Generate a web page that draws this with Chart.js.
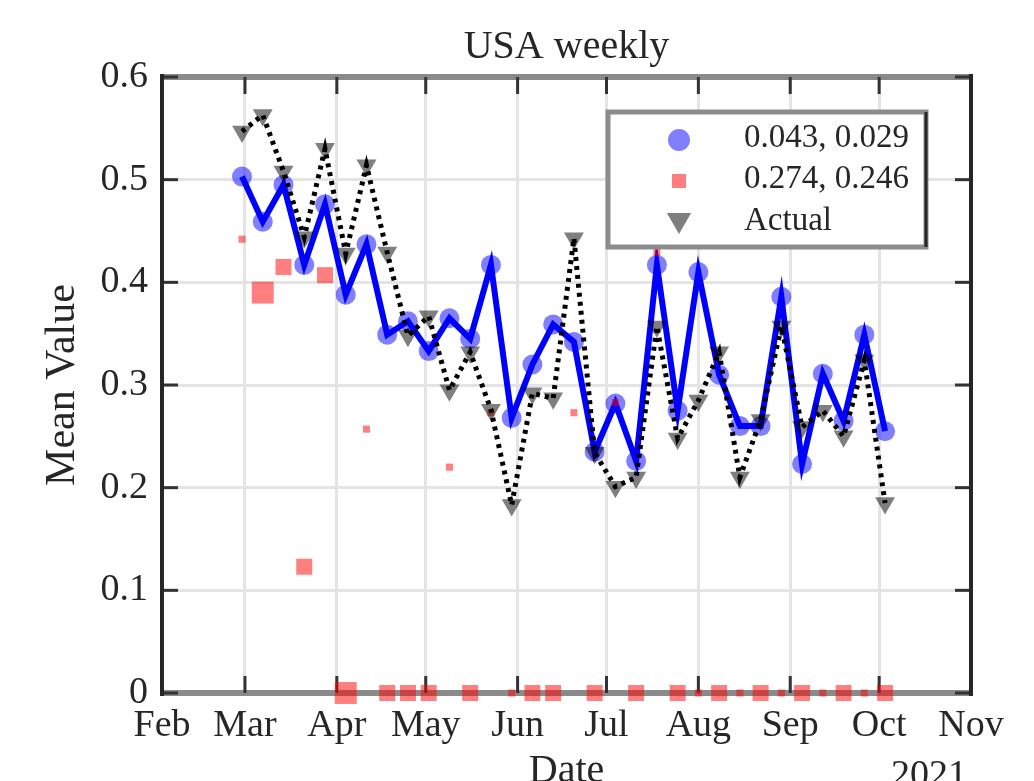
<!DOCTYPE html>
<html>
<head>
<meta charset="utf-8">
<script src="https://cdn.jsdelivr.net/npm/chart.js@4.4.0/dist/chart.umd.min.js"></script>
<style>
  html, body { margin: 0; padding: 0; background: #fff; overflow: hidden; }
  #wrap { width: 1034px; height: 781px; }
  #chart { filter: blur(0.5px); }
</style>
</head>
<body>
<div id="wrap"><canvas id="chart"></canvas></div>
<script>
// weekly dates (Sundays)
const weekDates = [
  '2021-02-28', '2021-03-07', '2021-03-14', '2021-03-21', '2021-03-28',
  '2021-04-04', '2021-04-11', '2021-04-18', '2021-04-25',
  '2021-05-02', '2021-05-09', '2021-05-16', '2021-05-23', '2021-05-30',
  '2021-06-06', '2021-06-13', '2021-06-20', '2021-06-27',
  '2021-07-04', '2021-07-11', '2021-07-18', '2021-07-25',
  '2021-08-01', '2021-08-08', '2021-08-15', '2021-08-22', '2021-08-29',
  '2021-09-05', '2021-09-12', '2021-09-19', '2021-09-26', '2021-10-03'
];
const monthStarts = ['2021-02-01', '2021-03-01', '2021-04-01', '2021-05-01', '2021-06-01',
  '2021-07-01', '2021-08-01', '2021-09-01', '2021-10-01', '2021-11-01'];
const monthLabels = ['Feb', 'Mar', 'Apr', 'May', 'Jun', 'Jul', 'Aug', 'Sep', 'Oct', 'Nov'];

// fit 1 (blue circles + line)
const fitBlue = [0.503, 0.459, 0.495, 0.417, 0.476, 0.388, 0.437, 0.349, 0.362, 0.333,
  0.365, 0.345, 0.417, 0.268, 0.320, 0.359, 0.342, 0.235, 0.282, 0.226,
  0.417, 0.275, 0.410, 0.310, 0.260, 0.260, 0.386, 0.223, 0.311, 0.265, 0.349, 0.255];
// fit 2 (red squares)
const fitRed = [0.442, 0.390, 0.415, 0.123, 0.407, 0, 0.257, 0, 0, 0,
  0.220, 0, 0.273, 0, 0, 0, 0.273, 0, 0.283, 0,
  0.429, 0, 0, 0, 0, 0, 0, 0, 0, 0, 0, 0];
// weight of each red marker (1 small, 2 medium, 3 large)
const fitRedWeight = [1, 3, 2, 2, 2, 3, 1, 2, 2, 2, 1, 2, 1, 1, 2, 2, 1, 2, 1, 2,
  1, 2, 1, 2, 1, 2, 1, 2, 1, 2, 1, 2];
// actual values (gray triangles + dotted line)
const actual = [0.547, 0.563, 0.508, 0.444, 0.530, 0.428, 0.514, 0.429, 0.348, 0.367,
  0.295, 0.332, 0.276, 0.183, 0.292, 0.287, 0.443, 0.234, 0.201, 0.210,
  0.357, 0.248, 0.285, 0.332, 0.210, 0.266, 0.357, 0.259, 0.275, 0.250, 0.324, 0.185];

const legendLabels = ['0.043, 0.029', '0.274, 0.246', 'Actual'];

const dayNum = s => (Date.parse(s) - Date.parse('2021-01-01')) / 86400000;
const xs = weekDates.map(dayNum);
const monthVals = monthStarts.map(dayNum);
const toPoints = arr => arr.map((v, i) => ({ x: xs[i], y: v }));

const TEXT = '#262626';
const FONT = 'Liberation Serif';
Chart.defaults.font.family = FONT;
Chart.defaults.color = TEXT;

// box frame with inward ticks, drawn under the data
const framePlugin = {
  id: 'frame',
  beforeDatasetsDraw(chart) {
    const { ctx, chartArea: a, scales: { x, y } } = chart;
    const seg = (x1, y1, x2, y2) => { ctx.beginPath(); ctx.moveTo(x1, y1); ctx.lineTo(x2, y2); ctx.stroke(); };
    ctx.save();
    ctx.strokeStyle = '#8a8a8a';
    ctx.lineWidth = 6;
    seg(a.left, a.top, a.right, a.top);
    seg(a.left, a.bottom, a.right, a.bottom);
    ctx.strokeStyle = '#333';
    ctx.lineWidth = 3;
    x.ticks.forEach(t => {
      const px = x.getPixelForValue(t.value);
      seg(px, a.bottom, px, a.bottom - 17);
      seg(px, a.top, px, a.top + 17);
    });
    y.ticks.forEach(t => {
      const py = y.getPixelForValue(t.value);
      seg(a.left, py, a.left + 16, py);
      seg(a.right, py, a.right - 16, py);
    });
    ctx.strokeStyle = '#262626';
    ctx.lineWidth = 4;
    seg(a.left, a.top - 3, a.left, a.bottom + 3);
    seg(a.right, a.top - 3, a.right, a.bottom + 3);
    ctx.restore();
  }
};

// legend box inside the axes + year label
const legendPlugin = {
  id: 'boxLegend',
  afterDraw(chart) {
    const { ctx } = chart;
    const bx = 608, by = 112, bw = 318, bh = 135;
    ctx.save();
    ctx.fillStyle = '#fff';
    ctx.fillRect(bx, by, bw, bh);
    ctx.strokeStyle = '#8c8c8c';
    ctx.lineWidth = 5;
    ctx.strokeRect(bx, by, bw, bh);
    ctx.strokeStyle = '#262626';
    ctx.lineWidth = 3;
    ctx.beginPath(); ctx.moveTo(bx + bw, by); ctx.lineTo(bx + bw, by + bh); ctx.stroke();

    const mx = 679;
    ctx.fillStyle = 'rgba(0,0,255,0.5)';
    ctx.beginPath(); ctx.arc(mx, 140, 11, 0, Math.PI * 2); ctx.fill();
    ctx.fillStyle = 'rgba(255,0,0,0.5)';
    ctx.fillRect(mx - 7, 181 - 7, 14, 14);
    ctx.fillStyle = 'rgba(0,0,0,0.5)';
    const r = 14;
    ctx.beginPath();
    ctx.moveTo(mx - r * 0.866, 220 - r * 0.5);
    ctx.lineTo(mx + r * 0.866, 220 - r * 0.5);
    ctx.lineTo(mx, 220 + r);
    ctx.closePath(); ctx.fill();

    ctx.fillStyle = TEXT;
    ctx.font = '33px "' + FONT + '"';
    ctx.textBaseline = 'alphabetic';
    ctx.textAlign = 'left';
    [147, 188, 230].forEach((ty, i) => ctx.fillText(legendLabels[i], 744, ty));

    ctx.font = '38px "' + FONT + '"';
    ctx.textAlign = 'center';
    ctx.fillText('2021', 929, 786);
    ctx.restore();
  }
};

const redRadius = [0, 5, 11.3, 15.5];

new Chart(document.getElementById('chart'), {
  type: 'line',
  data: {
    datasets: [
      {
        label: 'Actual line',
        data: toPoints(actual),
        borderColor: '#000',
        borderWidth: 5,
        borderDash: [4, 5],
        pointRadius: 0,
        tension: 0,
        clip: false,
        order: 0
      },
      {
        label: legendLabels[2],
        data: toPoints(actual),
        showLine: false,
        pointStyle: 'triangle',
        pointRotation: 180,
        pointRadius: 11.5,
        pointBorderWidth: 0,
        pointBackgroundColor: 'rgba(0,0,0,0.5)',
        clip: false,
        order: 1
      },
      {
        label: legendLabels[1],
        data: toPoints(fitRed),
        showLine: false,
        pointStyle: 'rect',
        pointRadius: c => redRadius[fitRedWeight[c.dataIndex]],
        pointBorderWidth: 0,
        pointBackgroundColor: 'rgba(255,0,0,0.5)',
        clip: false,
        order: 2
      },
      {
        label: legendLabels[0],
        data: toPoints(fitBlue),
        borderColor: '#0000ff',
        borderWidth: 6,
        pointRadius: 10,
        pointBorderWidth: 0,
        pointBackgroundColor: 'rgba(0,0,255,0.5)',
        tension: 0,
        clip: false,
        order: 3
      }
    ]
  },
  options: {
    responsive: true,
    maintainAspectRatio: false,
    animation: false,
    devicePixelRatio: 1,
    layout: { padding: { left: 0, right: 63, top: 0, bottom: 0 } },
    plugins: {
      legend: { display: false },
      tooltip: { enabled: false },
      title: {
        display: true,
        text: 'USA weekly',
        fullSize: false,
        color: TEXT,
        font: { size: 40, weight: 'normal' },
        padding: { top: 23, bottom: 6 }
      }
    },
    scales: {
      x: {
        type: 'linear',
        min: monthVals[0],
        max: monthVals[monthVals.length - 1],
        afterBuildTicks: s => { s.ticks = monthVals.map(v => ({ value: v })); },
        afterFit: s => { s.height = 88; },
        grid: { color: '#e4e4e4', lineWidth: 3, drawTicks: false },
        border: { display: false },
        ticks: {
          autoSkip: false,
          maxRotation: 0,
          padding: 10,
          font: { size: 38 },
          color: TEXT,
          callback: v => monthLabels[monthVals.indexOf(v)]
        },
        title: {
          display: true,
          text: 'Date',
          color: TEXT,
          font: { size: 40, lineHeight: 0.5 },
          padding: 0
        }
      },
      y: {
        min: 0,
        max: 0.6,
        afterFit: s => { s.width = 162; },
        grid: { color: '#e4e4e4', lineWidth: 3, drawTicks: false },
        border: { display: false },
        ticks: {
          stepSize: 0.1,
          padding: 14,
          font: { size: 38 },
          color: TEXT,
          callback: v => (Math.abs(v) < 1e-9 ? '0' : v.toFixed(1))
        },
        title: {
          display: true,
          text: 'Mean Value',
          color: TEXT,
          font: { size: 42 },
          padding: { top: 38, bottom: 0 }
        }
      }
    }
  },
  plugins: [framePlugin, legendPlugin]
});
</script>
</body>
</html>
